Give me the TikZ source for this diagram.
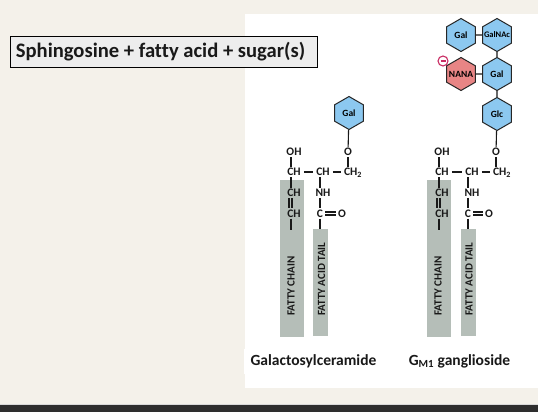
\documentclass[tikz,border=0pt]{standalone}
\usepackage{fontspec}
\setmainfont[Ligatures=NoCommon]{Carlito}
\usetikzlibrary{shapes.geometric,calc}
\definecolor{pagebg}{HTML}{F4F1EA}
\definecolor{barbg}{HTML}{2E2E2E}
\definecolor{hexblue}{HTML}{8CC8F0}
\definecolor{hexpink}{HTML}{E88585}
\definecolor{tailgrey}{HTML}{B5BEB8}
\definecolor{minusred}{HTML}{C92C63}
\tikzset{
  hexa/.style={regular polygon,regular polygon sides=6,shape border rotate=30,minimum size=33pt,inner sep=0pt,draw=black!85,line width=1pt,fill=hexblue,font=\fontsize{9.5}{10}\selectfont\bfseries},
  pinkhexa/.style={hexa,fill=hexpink},
  atom/.style={inner sep=1pt,font=\fontsize{11.5}{12}\selectfont\bfseries,text=black!90},
  bond/.style={line width=1.1pt,draw=black!90},
  hbond/.style={bond,shorten <=2pt,shorten >=2pt},
  dbond/.style={bond,shorten <=1pt,shorten >=1pt},
  tail/.style={fill=tailgrey,draw=none},
  taillabel/.style={rotate=90,inner sep=0pt,font=\fontsize{11}{11}\selectfont\bfseries,text=black!90},
  caption/.style={inner sep=0pt,font=\fontsize{15.5}{17}\selectfont\bfseries,text=black!90}
}
\begin{document}
\begin{tikzpicture}[x=1pt,y=-1pt]
\useasboundingbox (0,0) rectangle (538,412);
\fill[pagebg] (0,0) rectangle (538,412);
\fill[white] (245,14) rectangle (538,388);
\fill[white] (244,349) rectangle (300,374);
\fill[black!15] (0,404) rectangle (538,405.5);
\fill[barbg] (0,405) rectangle (538,412);
% title
\node[draw=black,line width=0.9pt,fill=black!7,minimum width=307pt,minimum height=31pt,inner sep=0pt] (titlebox) at (163.5,52) {};
\node[inner sep=0pt,font=\fontsize{20.6}{22}\selectfont\bfseries,text=black!90] (title) at (160.5,52) {Sphingosine + fatty acid + sugar(s)};
% grey bars
\fill[tail] (280,180) rectangle (304,337);
\fill[tail] (313,229) rectangle (328,336);
\fill[tail] (427,180) rectangle (451,337);
\fill[tail] (461,229) rectangle (476,336);
\node[taillabel] (fc1) at (291,286) {FATTY CHAIN};
\node[taillabel] (fa1) at (321.5,279) {FATTY ACID TAIL};
\node[taillabel] (fc2) at (438,286) {FATTY CHAIN};
\node[taillabel] (fa2) at (469,279) {FATTY ACID TAIL};
% left molecule
\node[hexa] (g1) at (349,113) {Gal};
\node[atom] (oa) at (348,152) {O};
\node[atom] (oha) at (294,152) {OH};
\node[atom] (ca1) at (294,172) {CH};
\node[atom] (ca2) at (323,172) {CH};
\node[atom] (ca3) at (353,172.5) {CH\textsubscript{2}};
\node[atom] (ca4) at (294,193) {CH};
\node[atom] (na) at (323,193) {NH};
\node[atom] (ca5) at (294,213.5) {CH};
\node[atom] (cca) at (320,213.5) {C};
\node[atom] (oca) at (342,213.5) {O};
\coordinate (ea) at (291,230);
\coordinate (fa) at (320,229);
\draw[bond] (g1) -- (oa);
\draw[bond] (oa) -- (oa|-ca3.north);
\draw[bond] ([xshift=-3pt]oha.south) -- ([xshift=-3pt]ca1.north);
\draw[bond] ([xshift=-3pt]ca1.south) -- ([xshift=-3pt]ca4.north);
\draw[bond] ([xshift=-5pt]ca4.south) -- ([xshift=-5pt]ca5.north);
\draw[bond] ([xshift=-2pt]ca4.south) -- ([xshift=-2pt]ca5.north);
\draw[bond] ([xshift=-3pt]ca5.south) -- (ea);
\draw[hbond] (ca1) -- (ca2);
\draw[hbond] (ca2) -- (ca3.west|-ca2);
\draw[bond] (ca2.south-|cca) -- (na.north-|cca);
\draw[bond] (na.south-|cca) -- (cca);
\draw[dbond] ([yshift=-1.5pt]cca.east) -- ([yshift=-1.5pt]oca.west);
\draw[dbond] ([yshift=1.5pt]cca.east) -- ([yshift=1.5pt]oca.west);
\draw[bond] (cca) -- (fa);
% right molecule
\node[hexa] (g2) at (461,35) {Gal};
\node[hexa,font=\fontsize{8.5}{9}\selectfont\bfseries] (gn) at (497,35) {\makebox[0pt]{GalNAc}};
\node[pinkhexa] (nana) at (461,74) {\makebox[0pt]{NANA}};
\node[hexa] (g3) at (497,74) {Gal};
\node[hexa] (glc) at (497,114) {Glc};
\node[circle,draw=minusred,line width=1.1pt,fill=white,minimum size=10pt,inner sep=0pt] (minus) at (443,61) {};
\draw[minusred,line width=1.2pt] ([xshift=-2.5pt]minus.center) -- ([xshift=2.5pt]minus.center);
\node[atom] (ob) at (496,152) {O};
\node[atom] (ohb) at (442,152) {OH};
\node[atom] (cb1) at (442,172) {CH};
\node[atom] (cb2) at (472,172) {CH};
\node[atom] (cb3) at (502,172.5) {CH\textsubscript{2}};
\node[atom] (cb4) at (442,193) {CH};
\node[atom] (nb) at (472,193) {NH};
\node[atom] (cb5) at (442,213.5) {CH};
\node[atom] (ccb) at (468,213.5) {C};
\node[atom] (ocb) at (489,213.5) {O};
\coordinate (eb) at (439,230);
\coordinate (fb) at (468,229);
\draw[bond,line width=1.4pt] (g2) -- (gn);
\draw[bond] (gn) -- (g3);
\draw[bond] (nana) -- (g3);
\draw[bond] (g3) -- (glc);
\draw[bond] (glc) -- (ob);
\draw[bond] (ob) -- (ob|-cb3.north);
\draw[bond] ([xshift=-3pt]ohb.south) -- ([xshift=-3pt]cb1.north);
\draw[bond] ([xshift=-3pt]cb1.south) -- ([xshift=-3pt]cb4.north);
\draw[bond] ([xshift=-5pt]cb4.south) -- ([xshift=-5pt]cb5.north);
\draw[bond] ([xshift=-2pt]cb4.south) -- ([xshift=-2pt]cb5.north);
\draw[bond] ([xshift=-3pt]cb5.south) -- (eb);
\draw[hbond] (cb1) -- (cb2);
\draw[hbond] (cb2) -- (cb3.west|-cb2);
\draw[bond] (cb2.south-|ccb) -- (nb.north-|ccb);
\draw[bond] (nb.south-|ccb) -- (ccb);
\draw[dbond] ([yshift=-1.5pt]ccb.east) -- ([yshift=-1.5pt]ocb.west);
\draw[dbond] ([yshift=1.5pt]ccb.east) -- ([yshift=1.5pt]ocb.west);
\draw[bond] (ccb) -- (fb);
% captions
\node[caption] (c1) at (313.5,361) {Galactosylceramide};
\node[caption] (c2) at (459.5,361) {G\textsubscript{M1} ganglioside};
\end{tikzpicture}
\end{document}
